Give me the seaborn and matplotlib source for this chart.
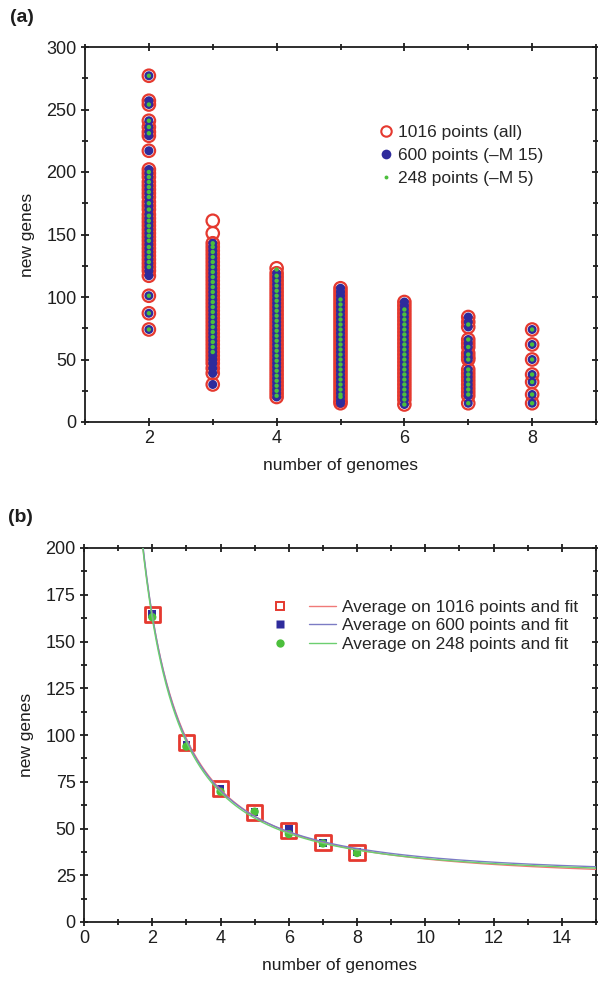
import numpy as np
import matplotlib
matplotlib.use("Agg")
import matplotlib.pyplot as plt
import seaborn as sns
from matplotlib.lines import Line2D
from matplotlib.legend_handler import HandlerTuple
from matplotlib.ticker import MultipleLocator

# ---- panel (a): new genes per number of genomes ----
genomes = [2, 3, 4, 5, 6, 7, 8]

blue_cols = [
    [277, 257, 254, 241, 236, 232, 229, 217, 202, 199, 196, 192, 189, 186,
     183, 180, 176, 173, 170, 166, 163, 160, 157, 154, 151, 148, 145, 142,
     139, 136, 133, 130, 127, 124, 121, 117, 101, 87, 74],
    [143, 140, 137, 134, 131, 128, 125, 122, 119, 116, 113, 110, 107, 104,
     101, 98, 95, 92, 89, 86, 83, 80, 77, 74, 71, 68, 65, 62, 59, 56, 53,
     50, 47, 43, 39, 30],
    [119, 116, 113, 110, 107, 104, 101, 98, 95, 92, 89, 86, 83, 80, 77, 74,
     71, 68, 65, 62, 59, 56, 53, 50, 47, 44, 41, 38, 35, 32, 29, 26, 23, 20],
    [107, 104, 101, 98, 95, 92, 89, 86, 83, 80, 77, 74, 71, 68, 65, 62, 59,
     56, 53, 50, 47, 44, 41, 38, 35, 32, 29, 26, 23, 20, 17, 15],
    [96, 93, 90, 87, 84, 81, 78, 75, 72, 69, 66, 63, 60, 57, 54, 51, 48, 45,
     42, 39, 36, 33, 30, 27, 24, 21, 18, 14],
    [84, 80, 76, 66, 63, 60, 55, 52, 50, 42, 39, 36, 33, 30, 27, 24, 21, 15],
    [74, 62, 50, 38, 32, 22, 15],
]
# points only present in the full set
red_extra_cols = [[], [161, 151], [123], [], [], [], []]

green_cols = [
    [277, 254, 241, 236, 231, 200, 196, 192, 188, 184, 180, 175, 170, 165,
     161, 157, 153, 149, 145, 140, 136, 132, 128, 124, 101, 87, 74],
    [143, 140, 136, 132, 128, 124, 120, 116, 112, 108, 104, 100, 96, 92, 88,
     84, 80, 76, 72, 68, 64, 60, 56],
    [122, 117, 113, 109, 105, 101, 97, 93, 89, 85, 81, 77, 73, 69, 65, 61,
     57, 53, 49, 45, 41, 37, 33, 29, 25, 21],
    [98, 94, 90, 86, 82, 78, 74, 70, 66, 62, 58, 54, 50, 46, 42, 38, 34, 30,
     26, 22, 20],
    [90, 86, 82, 78, 74, 70, 66, 62, 58, 54, 50, 46, 42, 38, 34, 30, 26, 22,
     18, 14],
    [78, 66, 60, 54, 50, 42, 38, 34, 30, 26, 22, 15],
    [74, 62, 50, 38, 32, 22, 15],
]

labels_a = ["1016 points (all)", "600 points (\u2013M 15)", "248 points (\u2013M 5)"]

# ---- panel (b): averages ----
avg_red = [164.5, 96, 71.5, 58.5, 48.8, 42.4, 37]
avg_blue = [164.7, 95, 71, 58.8, 49.6, 42.4, 37.4]
avg_green = [163, 93.8, 69.7, 59, 47, 42, 36.9]
labels_b = ["Average on 1016 points and fit", "Average on 600 points and fit",
            "Average on 248 points and fit"]

RED = "#e5392f"
BLUE = "#2e2b9c"
GREEN = "#4cbf3c"
RED_L = "#f07a78"
BLUE_L = "#7c7cc4"
GREEN_L = "#6ccf70"
INK = "#1e1e1e"


def flatten(cols):
    xs, ys = [], []
    for g, col in zip(genomes, cols):
        xs += [g] * len(col)
        ys += col
    return xs, ys


def fit_power(x, y):
    # y = k * x^-a + c, scan a and solve linearly for k, c
    x = np.asarray(x, float)
    y = np.asarray(y, float)
    best = None
    for a in np.linspace(0.3, 3.0, 2701):
        A = np.column_stack([x ** -a, np.ones_like(x)])
        coef = np.linalg.lstsq(A, y, rcond=None)[0]
        err = np.sum((A @ coef - y) ** 2)
        if best is None or err < best[0]:
            best = (err, a, coef[0], coef[1])
    return best[1:]


def style_axes(ax):
    for side in ["top", "right", "left", "bottom"]:
        ax.spines[side].set_visible(True)
        ax.spines[side].set_linewidth(1.3)
        ax.spines[side].set_color(INK)
    ax.tick_params(which="both", top=True, right=True, color=INK,
                   width=1.3, labelsize=13, labelcolor=INK)
    ax.tick_params(which="major", direction="inout", length=6, pad=3)
    ax.tick_params(which="minor", direction="inout", length=4)
    ax.tick_params(which="both", axis="x", labeltop=False)
    ax.tick_params(which="both", axis="y", labelright=False)


sns.set_theme(style="ticks")
plt.rcParams["font.family"] = ["Liberation Sans", "DejaVu Sans"]

fig = plt.figure(figsize=(5.98, 9.85), dpi=100)
ax_a = fig.add_axes([85 / 598, 1 - 422 / 985, 511 / 598, 375 / 985])
ax_b = fig.add_axes([84 / 598, 1 - 922 / 985, 512 / 598, 374 / 985])

# panel (a)
rx, ry = flatten([b + e for b, e in zip(blue_cols, red_extra_cols)])
bx, by = flatten(blue_cols)
gx, gy = flatten(green_cols)
sns.scatterplot(x=rx, y=ry, ax=ax_a, marker="o", s=80, facecolor="none",
                edgecolor=RED, linewidth=1.6, zorder=2)
sns.scatterplot(x=bx, y=by, ax=ax_a, marker="o", s=42, color=BLUE,
                edgecolor="none", linewidth=0, zorder=3)
sns.scatterplot(x=gx, y=gy, ax=ax_a, marker="o", s=10, color=GREEN,
                edgecolor="none", linewidth=0, zorder=4)

ax_a.set_xlim(1, 9)
ax_a.set_ylim(0, 300)
ax_a.xaxis.set_major_locator(MultipleLocator(2))
ax_a.xaxis.set_minor_locator(MultipleLocator(1))
ax_a.yaxis.set_major_locator(MultipleLocator(50))
ax_a.yaxis.set_minor_locator(MultipleLocator(25))
ax_a.set_xlabel("number of genomes", fontsize=12.5, labelpad=8, color=INK)
ax_a.set_ylabel("new genes", fontsize=12.5, labelpad=8, color=INK)
style_axes(ax_a)

handles_a = [
    Line2D([], [], ls="none", marker="o", ms=7.5, mfc="none", mec=RED, mew=1.5),
    Line2D([], [], ls="none", marker="o", ms=7, mfc=BLUE, mec="none"),
    Line2D([], [], ls="none", marker="o", ms=2.8, mfc=GREEN, mec="none"),
]
ax_a.legend(handles_a, labels_a, loc="upper left", bbox_to_anchor=(0.562, 0.815),
            frameon=False, fontsize=12.5, handlelength=0.6, handletextpad=0.4,
            labelspacing=0.45, borderpad=0)

# panel (b)
xcurve = np.linspace(1.5, 15, 600)
series_b = [(avg_red, RED_L), (avg_blue, BLUE_L), (avg_green, GREEN_L)]
for vals, light in series_b:
    a, k, c = fit_power(genomes, vals)
    sns.lineplot(x=xcurve, y=k * xcurve ** -a + c, ax=ax_b, color=light,
                 linewidth=1.0, zorder=5)

sns.scatterplot(x=genomes, y=avg_red, ax=ax_b, marker="s", s=120,
                facecolor="none", edgecolor=RED, linewidth=2.0, zorder=2)
sns.scatterplot(x=genomes, y=avg_blue, ax=ax_b, marker="s", s=30, color=BLUE,
                edgecolor="none", linewidth=0, zorder=3)
sns.scatterplot(x=genomes, y=avg_green, ax=ax_b, marker="o", s=36, color=GREEN,
                edgecolor="none", linewidth=0, zorder=4)

ax_b.set_xlim(0, 15)
ax_b.set_ylim(0, 200)
ax_b.xaxis.set_major_locator(MultipleLocator(2))
ax_b.xaxis.set_minor_locator(MultipleLocator(1))
ax_b.yaxis.set_major_locator(MultipleLocator(25))
ax_b.yaxis.set_minor_locator(MultipleLocator(12.5))
ax_b.set_xlabel("number of genomes", fontsize=12.5, labelpad=8, color=INK)
ax_b.set_ylabel("new genes", fontsize=12.5, labelpad=8, color=INK)
style_axes(ax_b)

mk = [
    Line2D([], [], ls="none", marker="s", ms=5.5, mfc="none", mec=RED, mew=1.4),
    Line2D([], [], ls="none", marker="s", ms=5.5, mfc=BLUE, mec="none"),
    Line2D([], [], ls="none", marker="o", ms=6, mfc=GREEN, mec="none"),
]
ln = [Line2D([], [], color=c, lw=1.0) for c in (RED_L, BLUE_L, GREEN_L)]
ax_b.legend([(m, l) for m, l in zip(mk, ln)], labels_b, loc="upper left",
            bbox_to_anchor=(0.34, 0.885), frameon=False, fontsize=12.5,
            handlelength=4.0, handletextpad=0.35, labelspacing=0.2,
            borderpad=0, handler_map={tuple: HandlerTuple(ndivide=None, pad=0.9)})

fig.text(10 / 598, 1 - 17 / 985, "(a)", fontsize=14, fontweight="bold",
         va="center", ha="left", color=INK)
fig.text(8 / 598, 1 - 518 / 985, "(b)", fontsize=14, fontweight="bold",
         va="center", ha="left", color=INK)

fig.savefig("out.png", dpi=100)
